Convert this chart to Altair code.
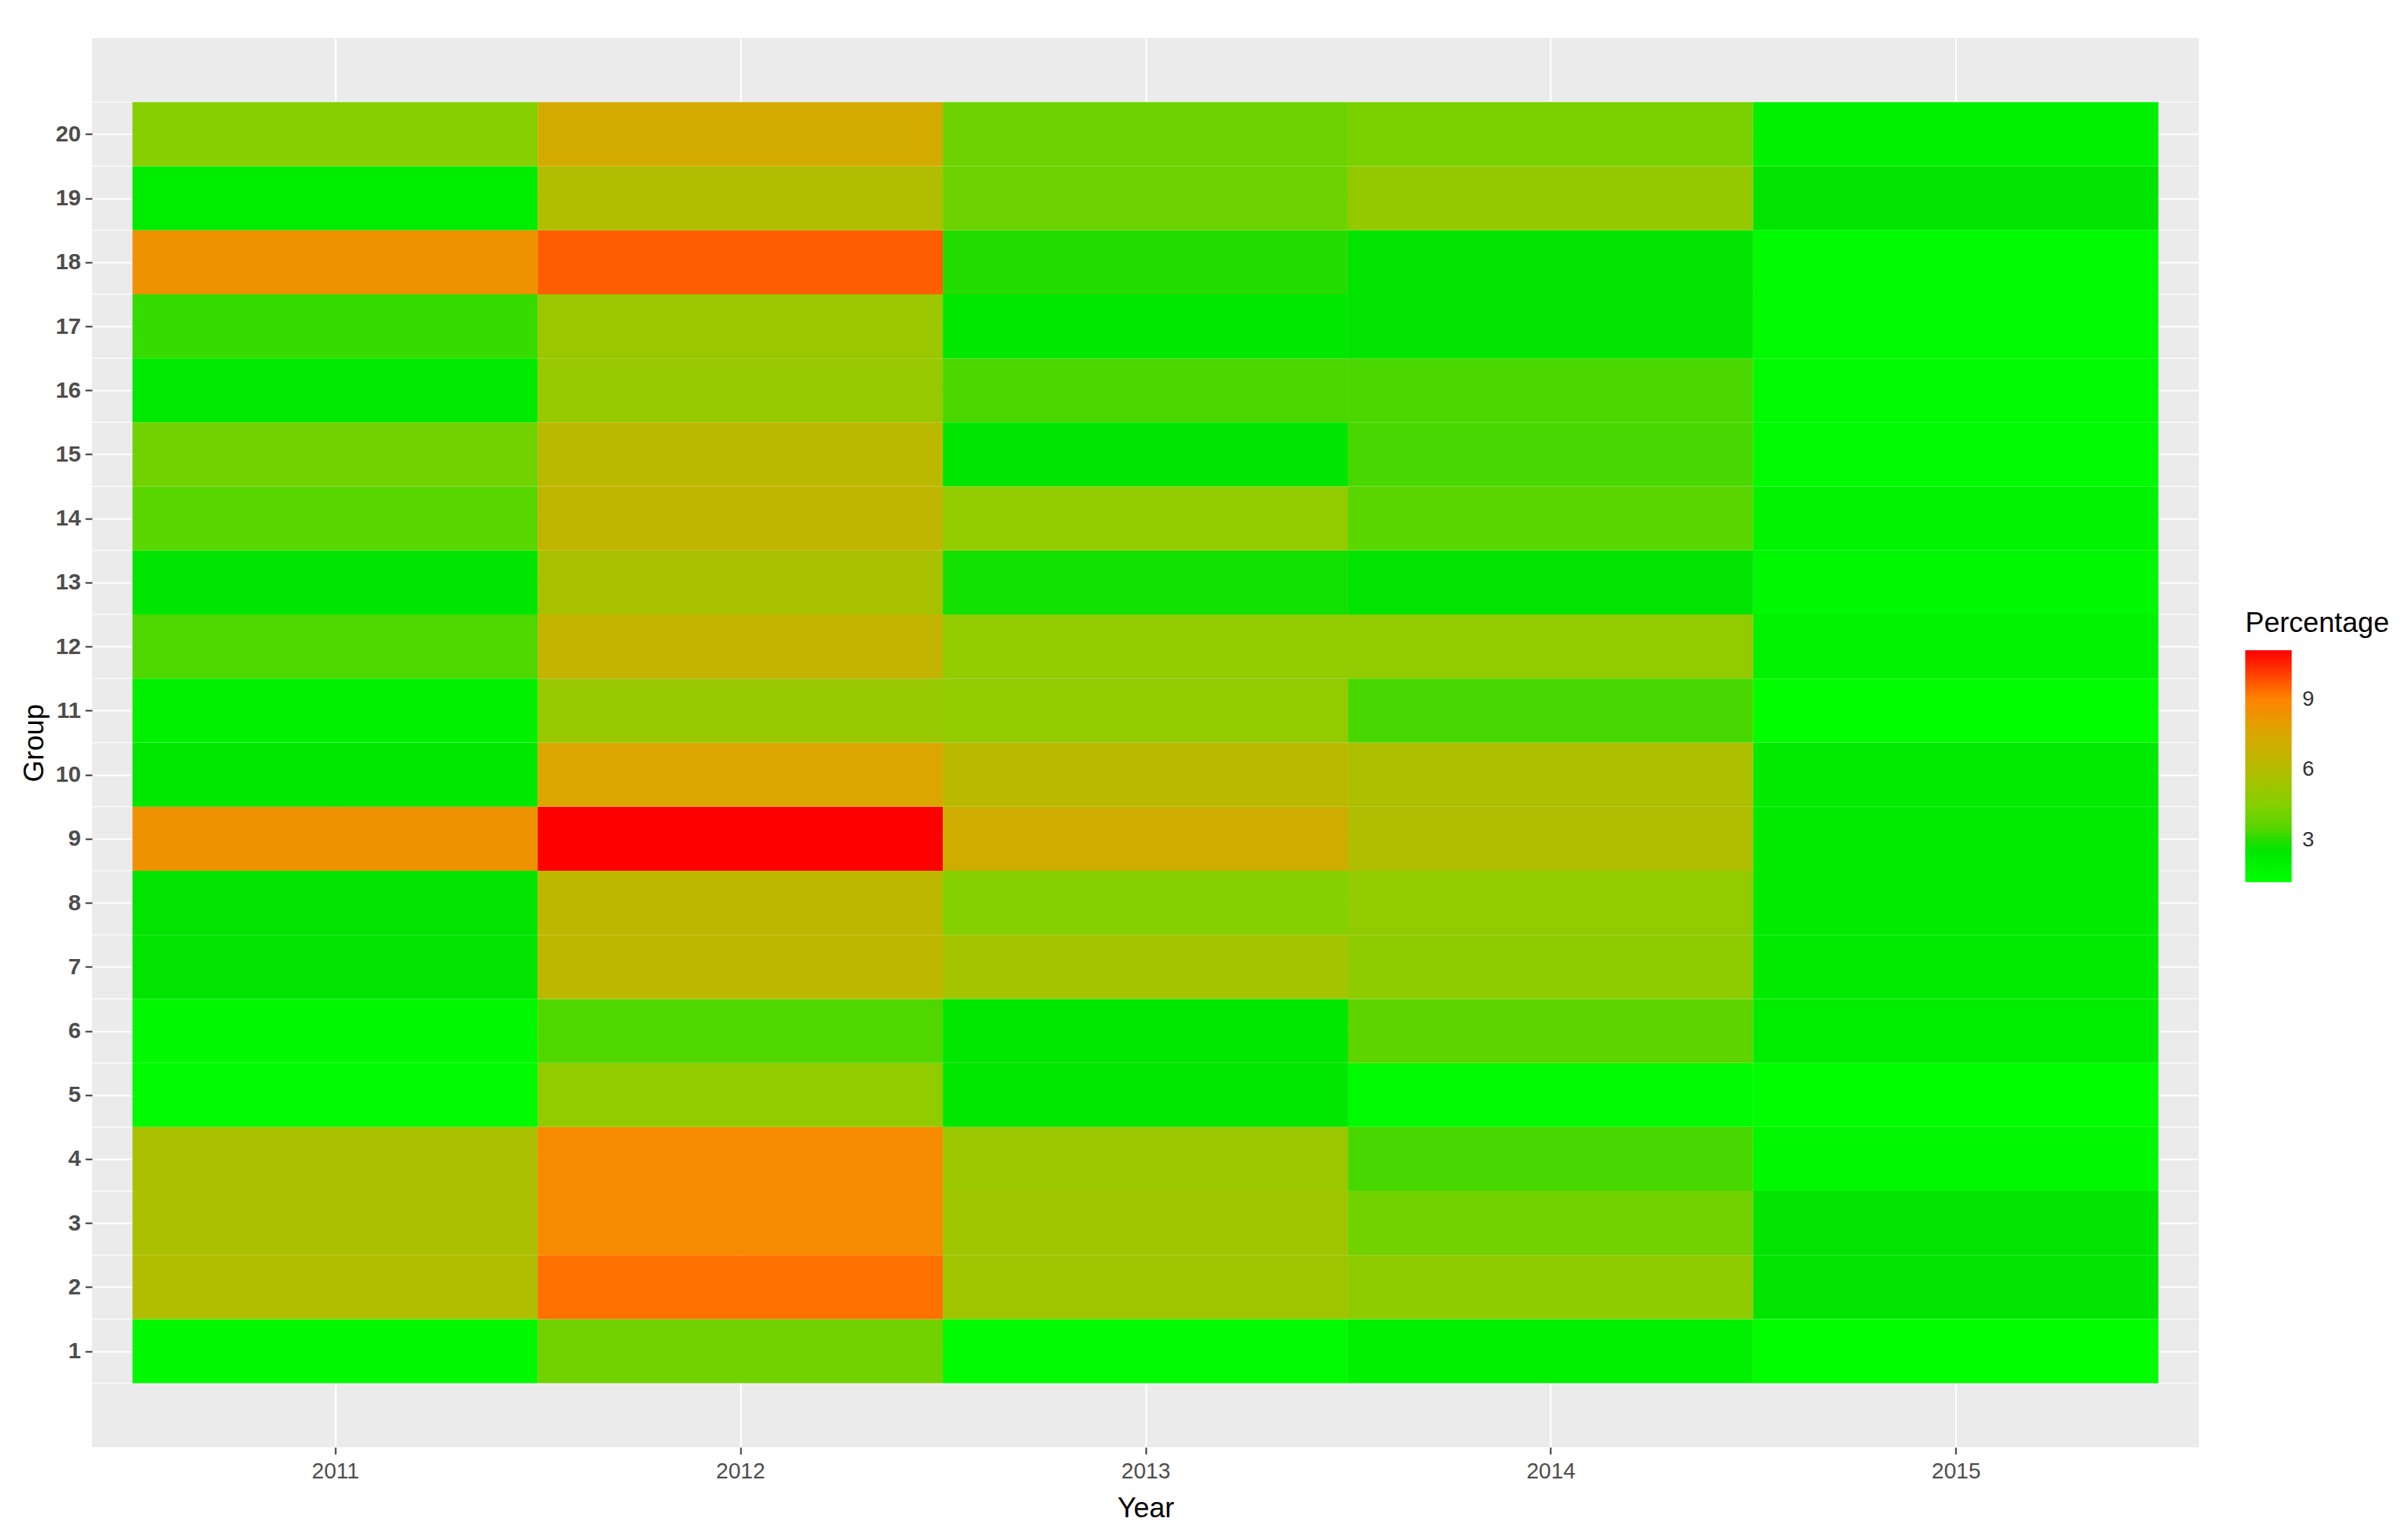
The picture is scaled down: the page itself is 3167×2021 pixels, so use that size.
import altair as alt
import pandas as pd

years = [2011, 2012, 2013, 2014, 2015]
groups = list(range(1, 21))
# Percentage per group (group 1 ... group 20) for each year
pct_2011 = [1.6, 5.9, 5.7, 5.7, 1.5, 1.6, 2.7, 2.7, 8.4, 2.5, 2.0, 3.35, 2.6, 3.6, 4.1, 2.4, 3.1, 8.4, 2.2, 4.6]
pct_2012 = [4.1, 9.3, 8.7, 8.7, 4.9, 3.4, 6.4, 6.4, 11.1, 7.6, 5.1, 6.6, 5.6, 6.5, 6.3, 5.1, 5.2, 9.6, 5.9, 7.3]
pct_2013 = [1.5, 5.3, 5.3, 5.2, 2.5, 2.5, 5.5, 4.5, 7.1, 6.3, 4.9, 4.9, 2.9, 4.9, 2.6, 3.25, 2.5, 3.0, 4.0, 4.0]
pct_2014 = [2.0, 4.8, 4.1, 3.2, 1.4, 3.7, 4.8, 4.9, 5.9, 5.8, 3.2, 4.9, 2.7, 3.6, 3.2, 3.25, 2.7, 2.7, 5.0, 4.3]
pct_2015 = [1.3, 2.7, 2.7, 1.6, 1.3, 2.2, 2.3, 2.3, 2.3, 2.3, 1.25, 1.9, 1.6, 1.8, 1.5, 1.4, 1.4, 1.4, 2.7, 2.0]

minor_breaks = [g + 0.5 for g in range(0, 21)]
legend_ticks = [3, 6, 9]

color_domain = [1.2, 2.8, 3.2, 4.5, 6.0, 7.5, 9.0, 11.1]
color_range = ["#00FF00", "#00E200", "#48D800", "#84D000", "#B4BC00", "#D8A800", "#FF8400", "#FF0000"]

series = [pct_2011, pct_2012, pct_2013, pct_2014, pct_2015]
rows = []
for yr, vals in zip(years, series):
    for g, v in zip(groups, vals):
        rows.append({"Year": yr, "Group": g, "Percentage": v})
df = pd.DataFrame(rows)
minor_df = pd.DataFrame({"minor": minor_breaks})

FONT = "Liberation Sans"

x_scale = alt.Scale(domain=[2010.4, 2015.6], nice=False, zero=False)
y_scale = alt.Scale(domain=[-0.5, 21.5], nice=False, zero=False)

x_axis = alt.Axis(values=years, format="d", title="Year", grid=True, gridColor="white",
                  gridWidth=2.2, labelFontSize=29, labelColor="#4D4D4D", labelFont=FONT,
                  titleFontSize=37, titleFont=FONT, titleFontWeight="normal", titleColor="black",
                  tickSize=9, tickWidth=2, tickColor="#333333", domain=False,
                  labelPadding=8, titlePadding=16)
y_axis = alt.Axis(values=groups, title="Group", grid=True, gridColor="white",
                  gridWidth=2.2, labelFontSize=30, labelColor="#4D4D4D", labelFont=FONT,
                  labelFontWeight="bold",
                  titleFontSize=37, titleFont=FONT, titleFontWeight="normal", titleColor="black",
                  tickSize=9, tickWidth=2, tickColor="#333333", domain=False,
                  labelPadding=6, titlePadding=8)

minor = alt.Chart(minor_df).mark_rule(color="white", strokeWidth=1.1).encode(
    y=alt.Y("minor:Q", scale=y_scale, axis=y_axis)
)

tiles = alt.Chart(df).transform_calculate(
    x0="datum.Year - 0.5", x1="datum.Year + 0.5",
    y0="datum.Group - 0.5", y1="datum.Group + 0.5"
).mark_rect().encode(
    x=alt.X("x0:Q", scale=x_scale, axis=x_axis),
    x2="x1:Q",
    y=alt.Y("y0:Q", scale=y_scale, axis=y_axis),
    y2="y1:Q",
    color=alt.Color(
        "Percentage:Q",
        scale=alt.Scale(domain=color_domain, range=color_range, interpolate="rgb"),
        legend=alt.Legend(
            title="Percentage", orient="none", legendX=2832, legendY=752,
            values=legend_ticks, gradientLength=305, gradientThickness=61,
            gradientStrokeWidth=0, labelFontSize=28, labelFont=FONT, labelColor="#333333",
            titleFontSize=37, titleFont=FONT, titleFontWeight="normal", titleColor="black",
            titlePadding=16, labelOffset=14, direction="vertical", titleLimit=600,
        ),
    ),
)

chart = alt.layer(minor, tiles).properties(
    width=2771, height=1853,
    autosize=alt.AutoSizeParams(type="none"),
    padding={"left": 113, "top": 42, "right": 255, "bottom": 100},
    background="white",
).configure_view(fill="#EBEBEB", strokeWidth=0)

chart.save("out.html", embed_options={"renderer": "svg", "actions": False})
